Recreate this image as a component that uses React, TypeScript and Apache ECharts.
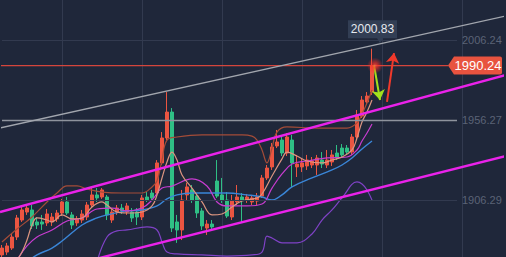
import React, { useEffect, useRef } from 'react';
import * as echarts from 'echarts';

// index slots of the category axis (candles occupy the first 75, the rest is right margin)
const categories: string[] = Array.from({ length: 101 }, (_, i) => String(i));

// [open, close, low, high]
const candles: number[][] = [
  [1871.9, 1876.2, 1870.6, 1878.1],
  [1873.7, 1877.5, 1871.9, 1879.4],
  [1876.2, 1883.1, 1875.0, 1885.6],
  [1883.1, 1895.0, 1881.2, 1896.9],
  [1893.7, 1900.0, 1892.5, 1902.5],
  [1898.7, 1901.2, 1896.9, 1903.1],
  [1900.0, 1890.0, 1888.1, 1903.1],
  [1892.5, 1890.6, 1888.1, 1895.6],
  [1892.5, 1891.2, 1887.5, 1896.9],
  [1891.9, 1897.5, 1890.0, 1900.6],
  [1892.5, 1895.6, 1890.0, 1898.1],
  [1894.4, 1898.1, 1892.5, 1900.0],
  [1898.1, 1905.0, 1896.2, 1906.9],
  [1905.0, 1898.1, 1896.9, 1908.1],
  [1896.9, 1890.6, 1888.1, 1898.7],
  [1891.9, 1894.4, 1890.0, 1896.2],
  [1893.7, 1897.5, 1891.9, 1900.0],
  [1895.6, 1903.1, 1893.7, 1905.0],
  [1903.1, 1909.4, 1901.9, 1913.7],
  [1909.4, 1907.5, 1905.0, 1913.7],
  [1908.1, 1912.5, 1906.9, 1913.7],
  [1908.1, 1896.9, 1893.7, 1909.4],
  [1893.7, 1898.7, 1891.9, 1900.6],
  [1898.7, 1901.2, 1896.9, 1903.1],
  [1901.2, 1899.4, 1897.5, 1903.7],
  [1898.7, 1902.5, 1896.9, 1904.4],
  [1898.7, 1895.0, 1892.5, 1901.2],
  [1898.7, 1895.6, 1890.6, 1901.2],
  [1895.6, 1907.5, 1893.7, 1909.4],
  [1908.1, 1906.2, 1905.0, 1911.2],
  [1910.6, 1907.5, 1905.6, 1912.5],
  [1910.6, 1929.4, 1908.7, 1931.2],
  [1929.4, 1945.0, 1928.1, 1948.7],
  [1945.0, 1961.2, 1943.7, 1973.7],
  [1961.2, 1888.7, 1886.2, 1963.7],
  [1892.5, 1887.5, 1879.4, 1896.9],
  [1887.5, 1906.2, 1881.2, 1912.5],
  [1909.4, 1914.4, 1906.2, 1916.9],
  [1912.5, 1906.2, 1904.4, 1915.6],
  [1908.7, 1898.1, 1895.0, 1910.6],
  [1899.4, 1890.0, 1887.5, 1901.2],
  [1888.7, 1891.2, 1884.4, 1893.7],
  [1891.2, 1889.4, 1886.9, 1893.7],
  [1918.1, 1908.7, 1907.5, 1931.2],
  [1909.4, 1906.2, 1904.4, 1920.0],
  [1906.2, 1896.2, 1895.0, 1911.2],
  [1895.6, 1905.6, 1893.7, 1909.4],
  [1905.0, 1908.1, 1903.1, 1915.6],
  [1908.1, 1906.2, 1891.9, 1910.6],
  [1906.2, 1908.1, 1904.4, 1910.0],
  [1905.0, 1907.5, 1903.1, 1909.4],
  [1905.6, 1908.1, 1903.1, 1910.6],
  [1908.7, 1920.0, 1907.5, 1921.9],
  [1920.0, 1926.2, 1918.7, 1928.1],
  [1926.9, 1939.4, 1925.0, 1941.9],
  [1940.0, 1942.5, 1938.7, 1950.0],
  [1943.7, 1935.6, 1933.7, 1946.2],
  [1935.6, 1945.6, 1933.7, 1948.1],
  [1943.7, 1929.4, 1914.4, 1946.9],
  [1926.9, 1928.7, 1920.6, 1934.4],
  [1926.9, 1929.4, 1923.7, 1932.5],
  [1927.5, 1931.2, 1925.0, 1934.4],
  [1928.1, 1930.6, 1926.2, 1933.1],
  [1928.1, 1932.5, 1921.9, 1934.4],
  [1931.2, 1928.7, 1926.2, 1936.2],
  [1928.1, 1931.2, 1926.2, 1937.5],
  [1930.0, 1934.4, 1927.5, 1937.5],
  [1935.6, 1933.1, 1931.2, 1940.6],
  [1938.7, 1934.4, 1932.5, 1941.2],
  [1938.7, 1936.2, 1934.4, 1940.6],
  [1936.2, 1945.6, 1934.4, 1947.5],
  [1945.6, 1959.4, 1944.4, 1962.5],
  [1958.7, 1968.7, 1957.5, 1971.2],
  [1967.5, 1971.2, 1965.6, 1973.7],
  [1973.7, 1990.24, 1971.9, 2000.83],
];

// indicator lines, read as [candle index, price]
const bollUpper: number[][] = [
  [0, 1880.0], [3, 1888.1], [6, 1895.6], [9, 1905.0], [11, 1910.6], [13, 1915.0], [15, 1915.0],
  [17, 1913.1], [20, 1911.2], [24, 1910.6], [28, 1910.6], [30, 1914.4], [31, 1918.1], [32, 1931.2],
  [33, 1943.7], [35, 1945.6], [40, 1946.9], [48, 1946.9], [50, 1946.2], [51, 1943.7], [52, 1937.5],
  [53, 1929.4], [54, 1938.7], [55, 1948.7], [57, 1951.9], [63, 1951.2], [69, 1951.2], [71, 1954.4],
  [72, 1960.0], [73, 1966.9], [74, 1975.0],
];
const bollMid: number[][] = [
  [5, 1867.5], [7, 1871.9], [10, 1876.2], [12, 1880.6], [16, 1890.6], [19, 1895.0], [21, 1896.9],
  [25, 1899.4], [28, 1900.0], [31, 1902.5], [33, 1906.9], [35, 1909.4], [38, 1910.6], [45, 1910.6],
  [49, 1909.4], [52, 1908.1], [54, 1906.2], [56, 1909.4], [58, 1914.4], [62, 1920.0], [66, 1925.0],
  [68, 1928.1], [70, 1932.5], [72, 1938.1], [74, 1943.1],
];
const bollLower: number[][] = [
  [19, 1867.5], [21, 1883.1], [23, 1886.9], [25, 1887.5], [29, 1889.4], [31, 1887.5], [32, 1880.0],
  [33, 1873.7], [35, 1872.5], [40, 1871.9], [45, 1871.2], [50, 1871.9], [52, 1873.7], [53, 1883.7],
  [54, 1882.5], [56, 1879.4], [59, 1879.4], [62, 1885.0], [64, 1893.7], [66, 1900.0], [68, 1907.5],
  [71, 1917.5], [72, 1916.2], [73, 1912.5], [74, 1906.2],
];
const ma5: number[][] = [
  [3, 1868.7], [4, 1873.7], [5, 1881.2], [6, 1890.6], [7, 1895.0], [9, 1893.7], [10, 1892.5],
  [12, 1896.9], [14, 1894.4], [16, 1895.0], [18, 1901.9], [20, 1905.0], [21, 1903.1], [23, 1898.7],
  [26, 1898.1], [28, 1898.7], [30, 1902.5], [31, 1909.4], [32, 1920.0], [33, 1930.0], [34, 1936.2],
  [35, 1931.2], [36, 1921.9], [38, 1913.7], [40, 1905.0], [42, 1896.9], [44, 1897.5], [46, 1901.9],
  [48, 1905.6], [51, 1907.5], [52, 1910.0], [54, 1921.2], [56, 1931.9], [57, 1936.2], [59, 1933.7],
  [61, 1930.6], [64, 1929.4], [66, 1931.2], [68, 1933.1], [70, 1937.5], [71, 1945.0], [72, 1955.0],
  [73, 1961.2], [74, 1968.7],
];
const ma10: number[][] = [
  [3, 1868.7], [5, 1877.5], [7, 1883.1], [10, 1887.5], [13, 1893.1], [16, 1895.0], [19, 1900.6],
  [22, 1901.2], [25, 1899.4], [28, 1901.2], [30, 1906.2], [32, 1913.7], [34, 1914.9], [38, 1919.4],
  [41, 1915.0], [43, 1905.0], [45, 1902.5], [49, 1902.5], [52, 1903.7], [54, 1913.7], [56, 1922.5],
  [58, 1928.7], [61, 1930.6], [65, 1932.5], [69, 1933.1], [71, 1937.5], [72, 1943.1], [73, 1948.1],
  [74, 1953.7],
];

// drawn trend lines: [start index, start price], [end index, end price]
const grayTrend: number[][] = [[-0.4, 1951.24], [100.8, 2021.24]];
const channelUpper: number[][] = [[-0.4, 1898.74], [100.8, 1984.37]];
const channelLower: number[][] = [[-0.4, 1854.37], [100.8, 1933.74]];

// price axis ticks and levels
const yTicks: number[] = [1906.29, 1956.27, 2006.24];
const brightLevel = 1956.27;
const lastPrice = 1990.24;
const highPrice = 2000.83;
const lastIndex = 74;
const priceLine: number[][] = [[-0.4, lastPrice], [89.2, lastPrice]];

// arrows: [index, price] start -> end
const arrowDown: number[][] = [[74.4, 1990.6], [75.6, 1968.74]];
const arrowUp: number[][] = [[77, 1967.5], [78.4, 1998.1]];

const Y_MIN = 1870.6;
const Y_MAX = 2031.24;

export default function App() {
  const ref = useRef<HTMLDivElement>(null);
  useEffect(() => {
    if (!ref.current) return;
    const chart = echarts.init(ref.current, null, { renderer: 'svg' });
    const font = 'Liberation Sans, Arial, sans-serif';
    const lineSeries = (name: string, data: number[][], color: string, width = 1.2) => ({
      name,
      type: 'line',
      xAxisIndex: 1,
      data,
      smooth: 0.4,
      symbol: 'none',
      z: 4,
      lineStyle: { color, width },
      silent: true,
    });
    const trend = (name: string, data: number[][], color: string, width: number, z = 5) => ({
      name,
      type: 'line',
      xAxisIndex: 1,
      data,
      symbol: 'none',
      clip: false,
      z,
      lineStyle: { color, width },
      silent: true,
    });
    const gridStyle = (t: number) => ({
      color: t === brightLevel ? '#8e939d' : '#323a4f',
      width: t === brightLevel ? 1.3 : 1,
      type: 'solid',
    });
    const option: any = {
      animation: false,
      backgroundColor: '#1f273a',
      textStyle: { fontFamily: font },
      grid: { left: 2, right: 4, top: 0, bottom: 0 },
      xAxis: [
        {
          type: 'category',
          data: categories,
          boundaryGap: false,
          axisLine: { show: false },
          axisTick: { show: false },
          axisLabel: { show: false },
          splitLine: {
            show: true,
            interval: (idx: number) => idx % 16 === 12,
            lineStyle: { color: '#323a4f', width: 1 },
          },
        },
        { type: 'value', min: 0, max: 100, show: false },
      ],
      yAxis: { type: 'value', min: Y_MIN, max: Y_MAX, show: false, scale: true },
      series: [
        {
          name: 'grid',
          type: 'line',
          xAxisIndex: 1,
          data: [[0, 1950]],
          symbol: 'none',
          lineStyle: { opacity: 0 },
          z: 1,
          silent: true,
          clip: false,
          markLine: {
            silent: true,
            symbol: 'none',
            animation: false,
            label: {
              show: true,
              position: 'end',
              distance: 5,
              color: '#5b6376',
              fontSize: 11,
              fontFamily: font,
              formatter: '{b}',
            },
            data: yTicks.map((t) => [
              { name: t.toFixed(2), coord: [0, t], lineStyle: gridStyle(t) },
              { coord: [91, t], lineStyle: gridStyle(t) },
            ]),
          },
        },
        trend('price', priceLine, '#d4453c', 1.2, 2),
        {
          name: 'K',
          type: 'candlestick',
          xAxisIndex: 0,
          data: candles,
          barWidth: 3.8,
          clip: false,
          z: 3,
          silent: true,
          itemStyle: {
            color: '#eb5541',
            color0: '#2fbf85',
            borderColor: '#eb5541',
            borderColor0: '#2fbf85',
            borderWidth: 1,
          },
        },
        lineSeries('upper', bollUpper, '#a44c38'),
        lineSeries('lower', bollLower, '#7f42c6'),
        lineSeries('mid', bollMid, '#3a86d8', 1.4),
        lineSeries('ma10', ma10, '#c83cd0'),
        lineSeries('ma5', ma5, '#dc9580'),
        trend('gray', grayTrend, '#a2a6ae', 1.3),
        trend('chUp', channelUpper, '#ea22ea', 2.4),
        trend('chLow', channelLower, '#ea22ea', 2.4),
        {
          name: 'tags',
          type: 'line',
          xAxisIndex: 1,
          data: [[0, lastPrice]],
          symbol: 'none',
          lineStyle: { opacity: 0 },
          z: 7,
          clip: false,
          silent: true,
          markPoint: {
            silent: true,
            data: [
              {
                coord: [94.6, lastPrice],
                symbol: 'path://M0,9L6,0L52,0Q54,0 54,2L54,16Q54,18 52,18L6,18Z',
                symbolSize: [54, 18],
                itemStyle: { color: '#e8533f' },
                label: {
                  show: true,
                  position: 'inside',
                  formatter: lastPrice.toFixed(2),
                  color: '#ffffff',
                  fontSize: 13,
                  fontFamily: font,
                  offset: [3, 0],
                },
              },
              {
                coord: [lastIndex, highPrice],
                symbol: 'path://M0,0H49V18H35L32,23L29,18H0Z',
                symbolSize: [49, 23],
                symbolOffset: [0.5, -17],
                itemStyle: { color: '#323e54' },
                label: {
                  show: true,
                  position: 'inside',
                  formatter: highPrice.toFixed(2),
                  color: '#e6e9ef',
                  fontSize: 12,
                  fontFamily: font,
                  offset: [0, -2.5],
                },
              },
            ],
          },
        },
        {
          name: 'glow',
          type: 'scatter',
          xAxisIndex: 1,
          data: [[74.6, lastPrice]],
          symbolSize: 16,
          z: 6,
          silent: true,
          clip: false,
          itemStyle: {
            color: {
              type: 'radial',
              x: 0.5,
              y: 0.5,
              r: 0.5,
              colorStops: [
                { offset: 0, color: 'rgba(255,90,70,1)' },
                { offset: 0.3, color: 'rgba(255,50,40,0.85)' },
                { offset: 1, color: 'rgba(255,40,40,0)' },
              ],
            },
          },
        },
        {
          name: 'arrows',
          type: 'line',
          xAxisIndex: 1,
          data: [[0, lastPrice]],
          symbol: 'none',
          lineStyle: { opacity: 0 },
          z: 7,
          clip: false,
          silent: true,
          markLine: {
            silent: true,
            symbol: ['none', 'arrow'],
            symbolSize: 10,
            label: { show: false },
            data: [
              [
                { coord: arrowDown[0], lineStyle: { color: '#a2e01c', width: 2, type: 'solid' } },
                { coord: arrowDown[1], lineStyle: { color: '#a2e01c', width: 2, type: 'solid' } },
              ],
              [
                { coord: arrowUp[0], lineStyle: { color: '#f0392b', width: 2, type: 'solid' } },
                { coord: arrowUp[1], lineStyle: { color: '#f0392b', width: 2, type: 'solid' } },
              ],
            ],
          },
        },
      ],
    };
    chart.setOption(option);
    return () => chart.dispose();
  }, []);
  return (
    <div
      ref={ref}
      style={{ position: 'fixed', left: 0, top: 0, width: 506, height: 257, background: '#1f273a' }}
    />
  );
}
